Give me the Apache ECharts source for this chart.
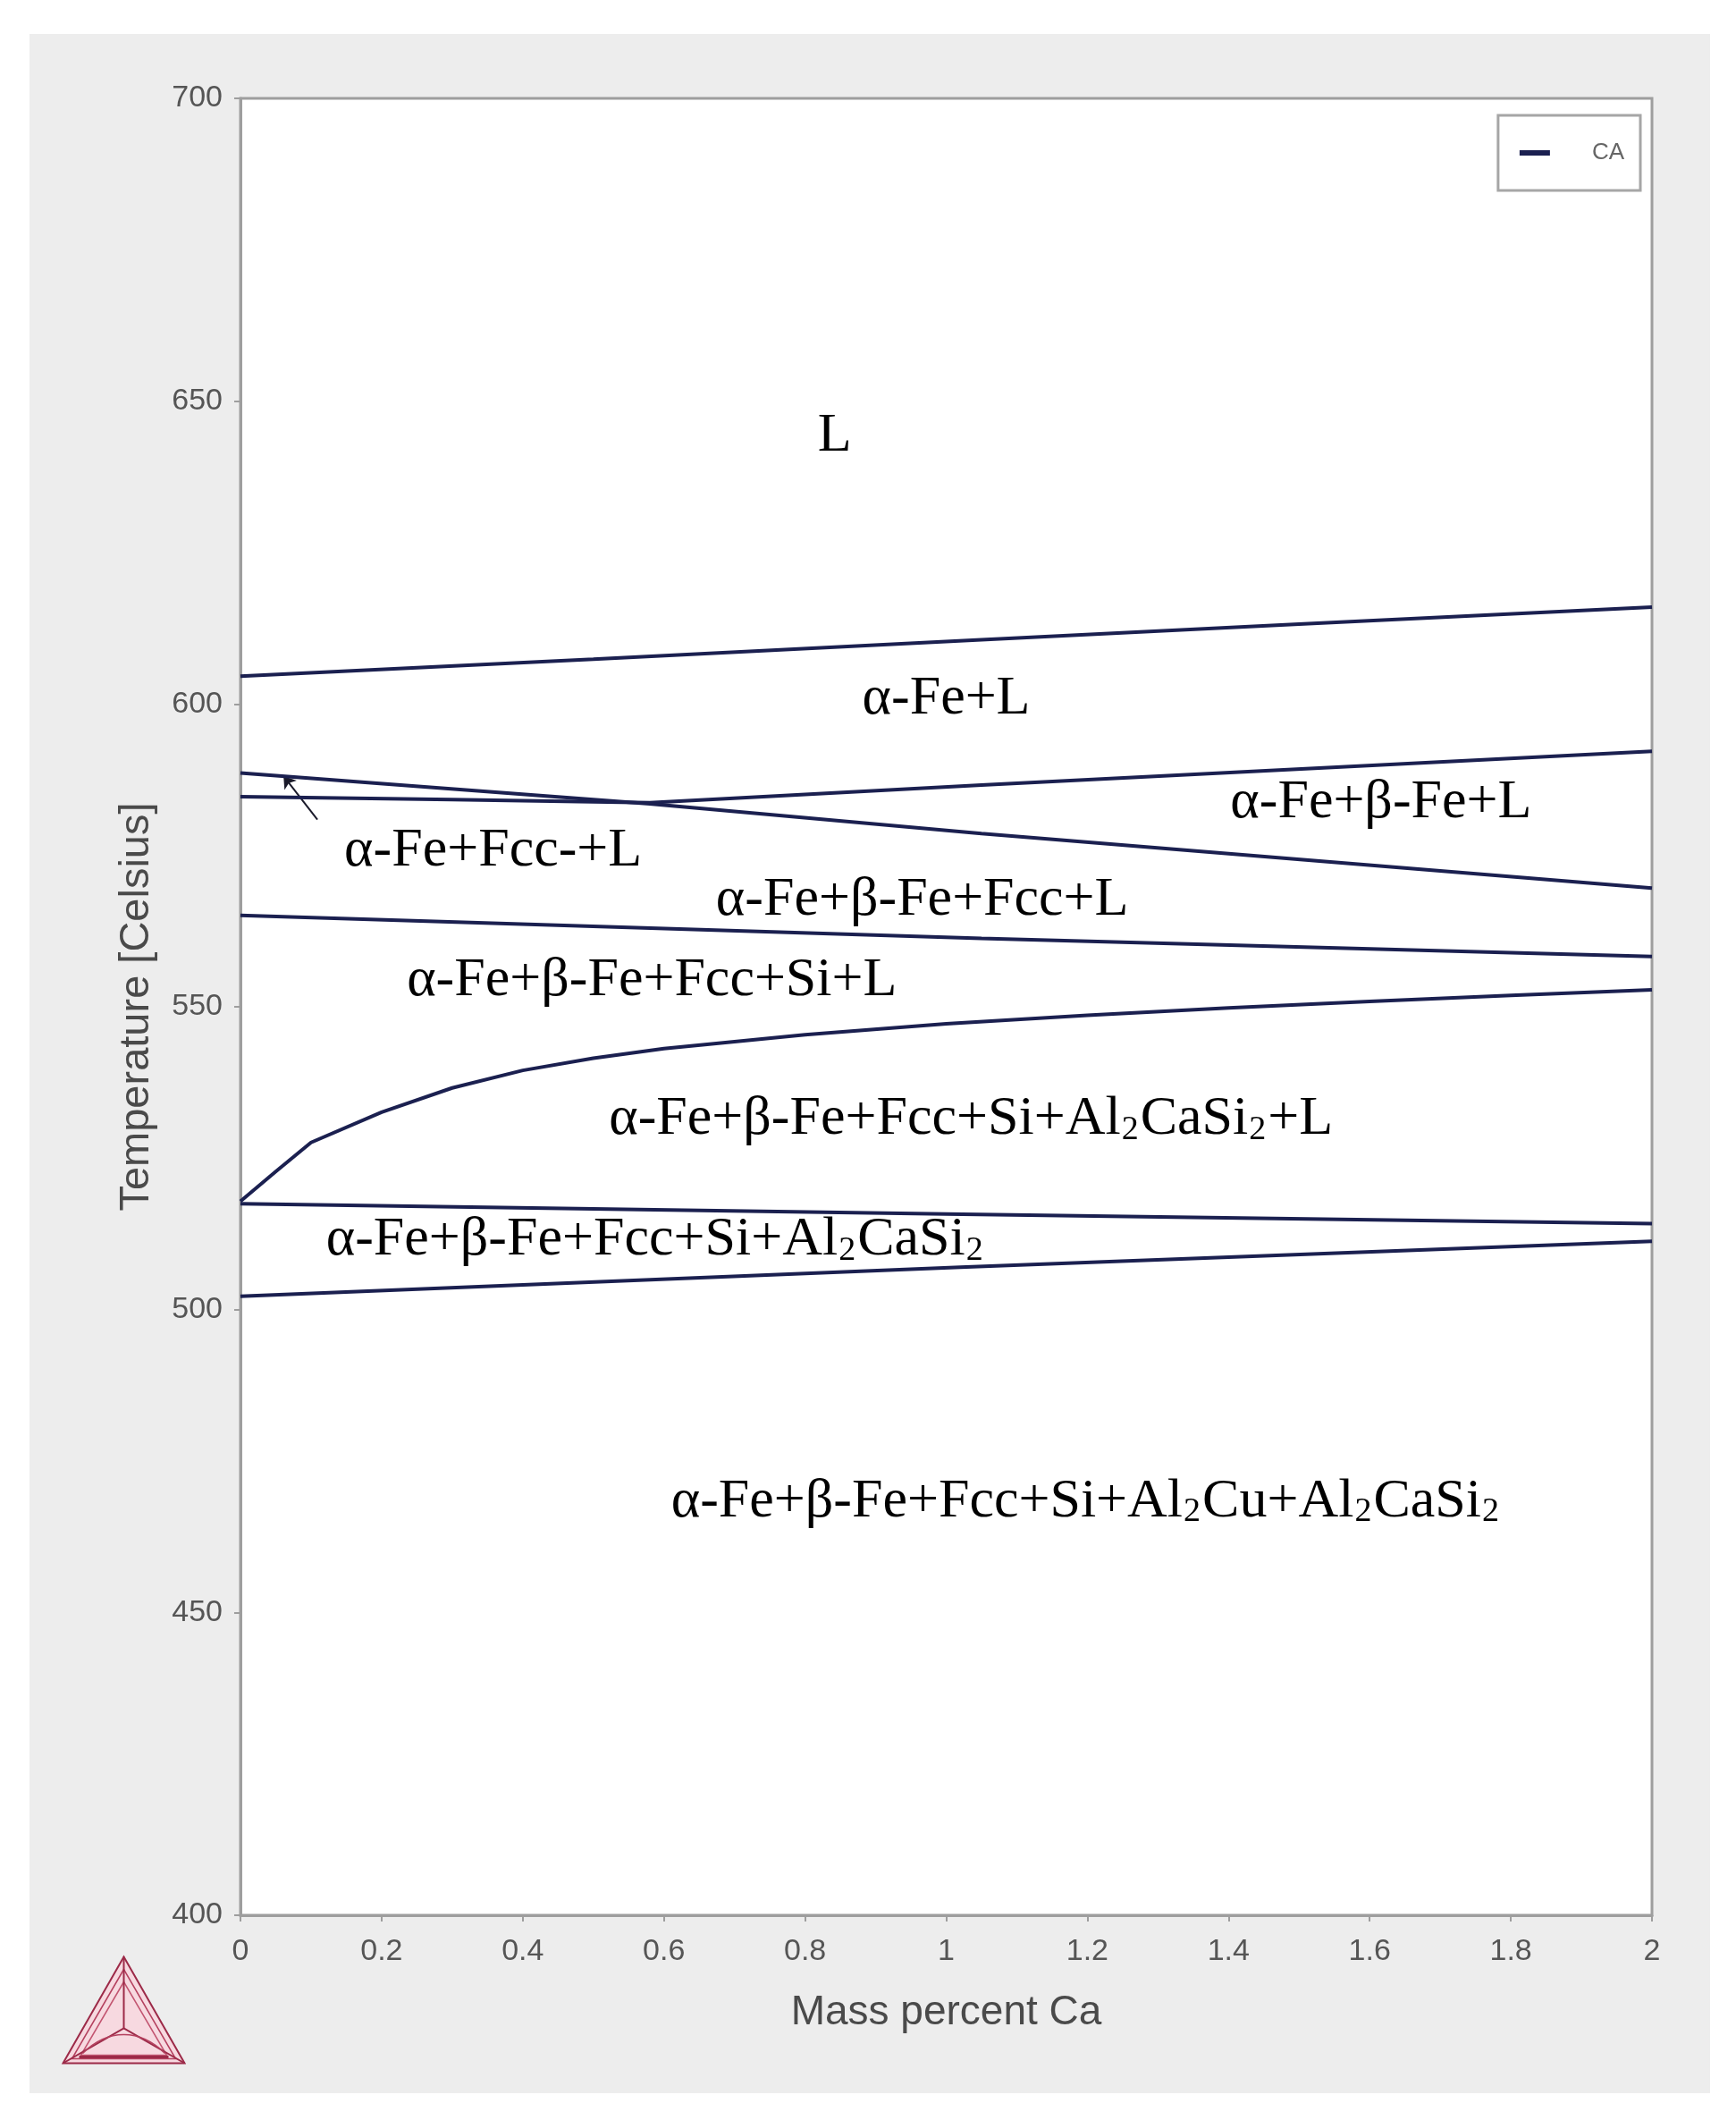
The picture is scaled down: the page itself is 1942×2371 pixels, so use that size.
<!DOCTYPE html>
<html>
<head>
<meta charset="utf-8">
<title>Mass percent Ca</title>
<script src="https://cdn.jsdelivr.net/npm/echarts@6/dist/echarts.min.js"></script>
<style>
    html, body { margin: 0; padding: 0; background: #fff; }
    .panel {
        position: absolute; left: 33px; top: 38px;
        width: 1880px; height: 2303px;
        background: #ededed;
    }
    #echarts-main { position: absolute; left: 0; top: 0; width: 1942px; height: 2371px; }
</style>
</head>
<body>
<div class="panel"></div>
<div id="echarts-main"></div>
<script>
    // axis ticks
    const caTicks = [0, 0.2, 0.4, 0.6, 0.8, 1, 1.2, 1.4, 1.6, 1.8, 2]
    const tempTicks = [400, 450, 500, 550, 600, 650, 700]

    // phase boundaries (mass % Ca, temperature)
    const liqX = [0, 0.5, 1.05, 1.5, 2]
    const liqT = [604.6, 607.4, 610.6, 613.2, 616.0]

    const betaX = [0, 0.3, 0.58, 1.05, 2]
    const betaT = [584.7, 584.2, 583.7, 586.6, 592.2]

    const fccX = [0, 0.58, 1.05, 2]
    const fccT = [588.6, 583.5, 578.6, 569.6]

    const siX = [0, 1.05, 2]
    const siT = [565.1, 561.3, 558.3]

    const caSiX = [0, 0.05, 0.1, 0.2, 0.3, 0.4, 0.5, 0.6, 0.8, 1.0, 1.2, 1.4, 1.6, 1.8, 2.0]
    const caSiT = [517.9, 522.8, 527.6, 532.6, 536.6, 539.5, 541.5, 543.1, 545.4, 547.2, 548.6, 549.8, 550.9, 551.9, 552.8]

    const solX = [0, 1.0, 2]
    const solT = [517.5, 515.8, 514.2]

    const cuX = [0, 1.02, 2]
    const cuT = [502.2, 507.0, 511.3]

    // region labels
    const labelX = [0.842, 1.0, 1.616, 0.358, 0.966, 0.583, 1.035, 0.588, 1.198]
    const labelT = [644.3, 600.8, 583.7, 575.8, 567.6, 554.3, 531.4, 511.5, 468.3]
    const labelText = [
        'L',
        'α-Fe+L',
        'α-Fe+β-Fe+L',
        'α-Fe+Fcc-+L',
        'α-Fe+β-Fe+Fcc+L',
        'α-Fe+β-Fe+Fcc+Si+L',
        'α-Fe+β-Fe+Fcc+Si+Al{s|2}CaSi{s|2}+L',
        'α-Fe+β-Fe+Fcc+Si+Al{s|2}CaSi{s|2}',
        'α-Fe+β-Fe+Fcc+Si+Al{s|2}Cu+Al{s|2}CaSi{s|2}'
    ]

    // pointer arrow (tail -> head)
    const arrowX = [0.109, 0.061]
    const arrowT = [580.9, 588.1]

    const boundaries = [
        [liqX, liqT], [betaX, betaT], [fccX, fccT], [siX, siT],
        [caSiX, caSiT], [solX, solT], [cuX, cuT]
    ]

    const lineSeries = boundaries.map(b => ({
        name: 'CA',
        type: 'line',
        showSymbol: false,
        symbol: 'none',
        silent: true,
        lineStyle: { color: '#1b2050', width: 4 },
        itemStyle: { color: '#1b2050' },
        data: b[0].map((x, i) => [x, b[1][i]])
    }))

    let myChart = echarts.init(document.getElementById('echarts-main'))

    const axisFont = 'Liberation Sans, Arial, sans-serif'
    const serifFont = 'Liberation Serif, Times New Roman, serif'

    const option = {
        animation: false,
        grid: {
            left: 269, top: 110, right: 94, bottom: 229,
            show: true,
            backgroundColor: '#ffffff',
            borderColor: '#9e9e9e',
            borderWidth: 3
        },
        legend: {
            data: ['CA'],
            right: 1942 - 1835,
            top: 129,
            orient: 'vertical',
            backgroundColor: '#ffffff',
            borderColor: '#a6a6a6',
            borderWidth: 3,
            padding: [29, 18, 29, 24],
            icon: 'rect',
            itemWidth: 34,
            itemHeight: 6,
            textStyle: { color: '#666', fontSize: 26, fontFamily: axisFont, padding: [0, 0, 0, 42] }
        },
        xAxis: {
            type: 'value',
            min: caTicks[0],
            max: caTicks[caTicks.length - 1],
            interval: caTicks[1] - caTicks[0],
            name: 'Mass percent Ca',
            nameLocation: 'middle',
            nameGap: 86,
            nameTextStyle: { color: '#4a4a4a', fontSize: 46, fontFamily: axisFont },
            axisLine: { lineStyle: { color: '#9e9e9e', width: 3 } },
            axisTick: { length: 7, lineStyle: { color: '#9e9e9e', width: 2 } },
            axisLabel: { color: '#555', fontSize: 34, fontFamily: axisFont, margin: 24 },
            splitLine: { show: false }
        },
        yAxis: {
            type: 'value',
            min: tempTicks[0],
            max: tempTicks[tempTicks.length - 1],
            interval: tempTicks[1] - tempTicks[0],
            name: 'Temperature [Celsius]',
            nameLocation: 'middle',
            nameGap: 92,
            nameTextStyle: { color: '#4a4a4a', fontSize: 47, fontFamily: axisFont },
            axisLine: { show: true, lineStyle: { color: '#9e9e9e', width: 3 } },
            axisTick: { show: true, length: 7, lineStyle: { color: '#9e9e9e', width: 2 } },
            axisLabel: { color: '#555', fontSize: 34, fontFamily: axisFont, margin: 20 },
            splitLine: { show: false }
        },
        graphic: [
            // Thermo-Calc style logo
            {
                type: 'group', left: 68, top: 2186,
                children: [
                    { type: 'polygon', shape: { points: [[68, 0], [0, 119], [136, 119]] },
                      style: { fill: '#f7d9e0', stroke: '#9c2a48', lineWidth: 2 } },
                    { type: 'polygon', shape: { points: [[68, 14], [10, 114], [126, 114]] },
                      style: { fill: 'none', stroke: '#b4405e', lineWidth: 1.5 } },
                    { type: 'polygon', shape: { points: [[68, 28], [20, 110], [116, 110]] },
                      style: { fill: 'none', stroke: '#c25470', lineWidth: 1.5 } },
                    { type: 'polyline', shape: { points: [[68, 0], [68, 80]] },
                      style: { stroke: '#9c2a48', lineWidth: 2 } },
                    { type: 'polyline', shape: { points: [[0, 119], [68, 80], [136, 119]] },
                      style: { stroke: '#9c2a48', lineWidth: 2, fill: 'none' } },
                    { type: 'bezierCurve', shape: { x1: 22, y1: 108, x2: 114, y2: 108, cpx1: 50, cpy1: 80, cpx2: 86, cpy2: 80 },
                      style: { stroke: '#b4405e', lineWidth: 1.5, fill: 'none' } },
                    { type: 'polyline', shape: { points: [[18, 112], [118, 112]] },
                      style: { stroke: '#9c2a48', lineWidth: 3 } }
                ]
            }
        ],
        series: [
            ...lineSeries,
            {
                name: 'arrow',
                type: 'lines',
                coordinateSystem: 'cartesian2d',
                silent: true,
                symbol: ['none', 'arrow'],
                symbolSize: 13,
                lineStyle: { color: '#1a1a2a', width: 2, opacity: 1 },
                data: [{ coords: [[arrowX[0], arrowT[0]], [arrowX[1], arrowT[1]]] }]
            },
            {
                name: 'regions',
                type: 'scatter',
                silent: true,
                symbolSize: 1,
                itemStyle: { color: 'rgba(0,0,0,0)', opacity: 1 },
                label: {
                    show: true,
                    position: 'inside',
                    color: '#000',
                    opacity: 1,
                    fontSize: 62,
                    fontFamily: serifFont,
                    formatter: p => p.name,
                    rich: {
                        s: {
                            fontSize: 38,
                            color: '#000',
                            fontFamily: serifFont,
                            verticalAlign: 'bottom',
                            padding: [0, 2, 0, 1]
                        }
                    }
                },
                data: labelX.map((x, i) => ({ name: labelText[i], value: [x, labelT[i]] }))
            }
        ]
    }

    myChart.setOption(option)
</script>
</body>
</html>
